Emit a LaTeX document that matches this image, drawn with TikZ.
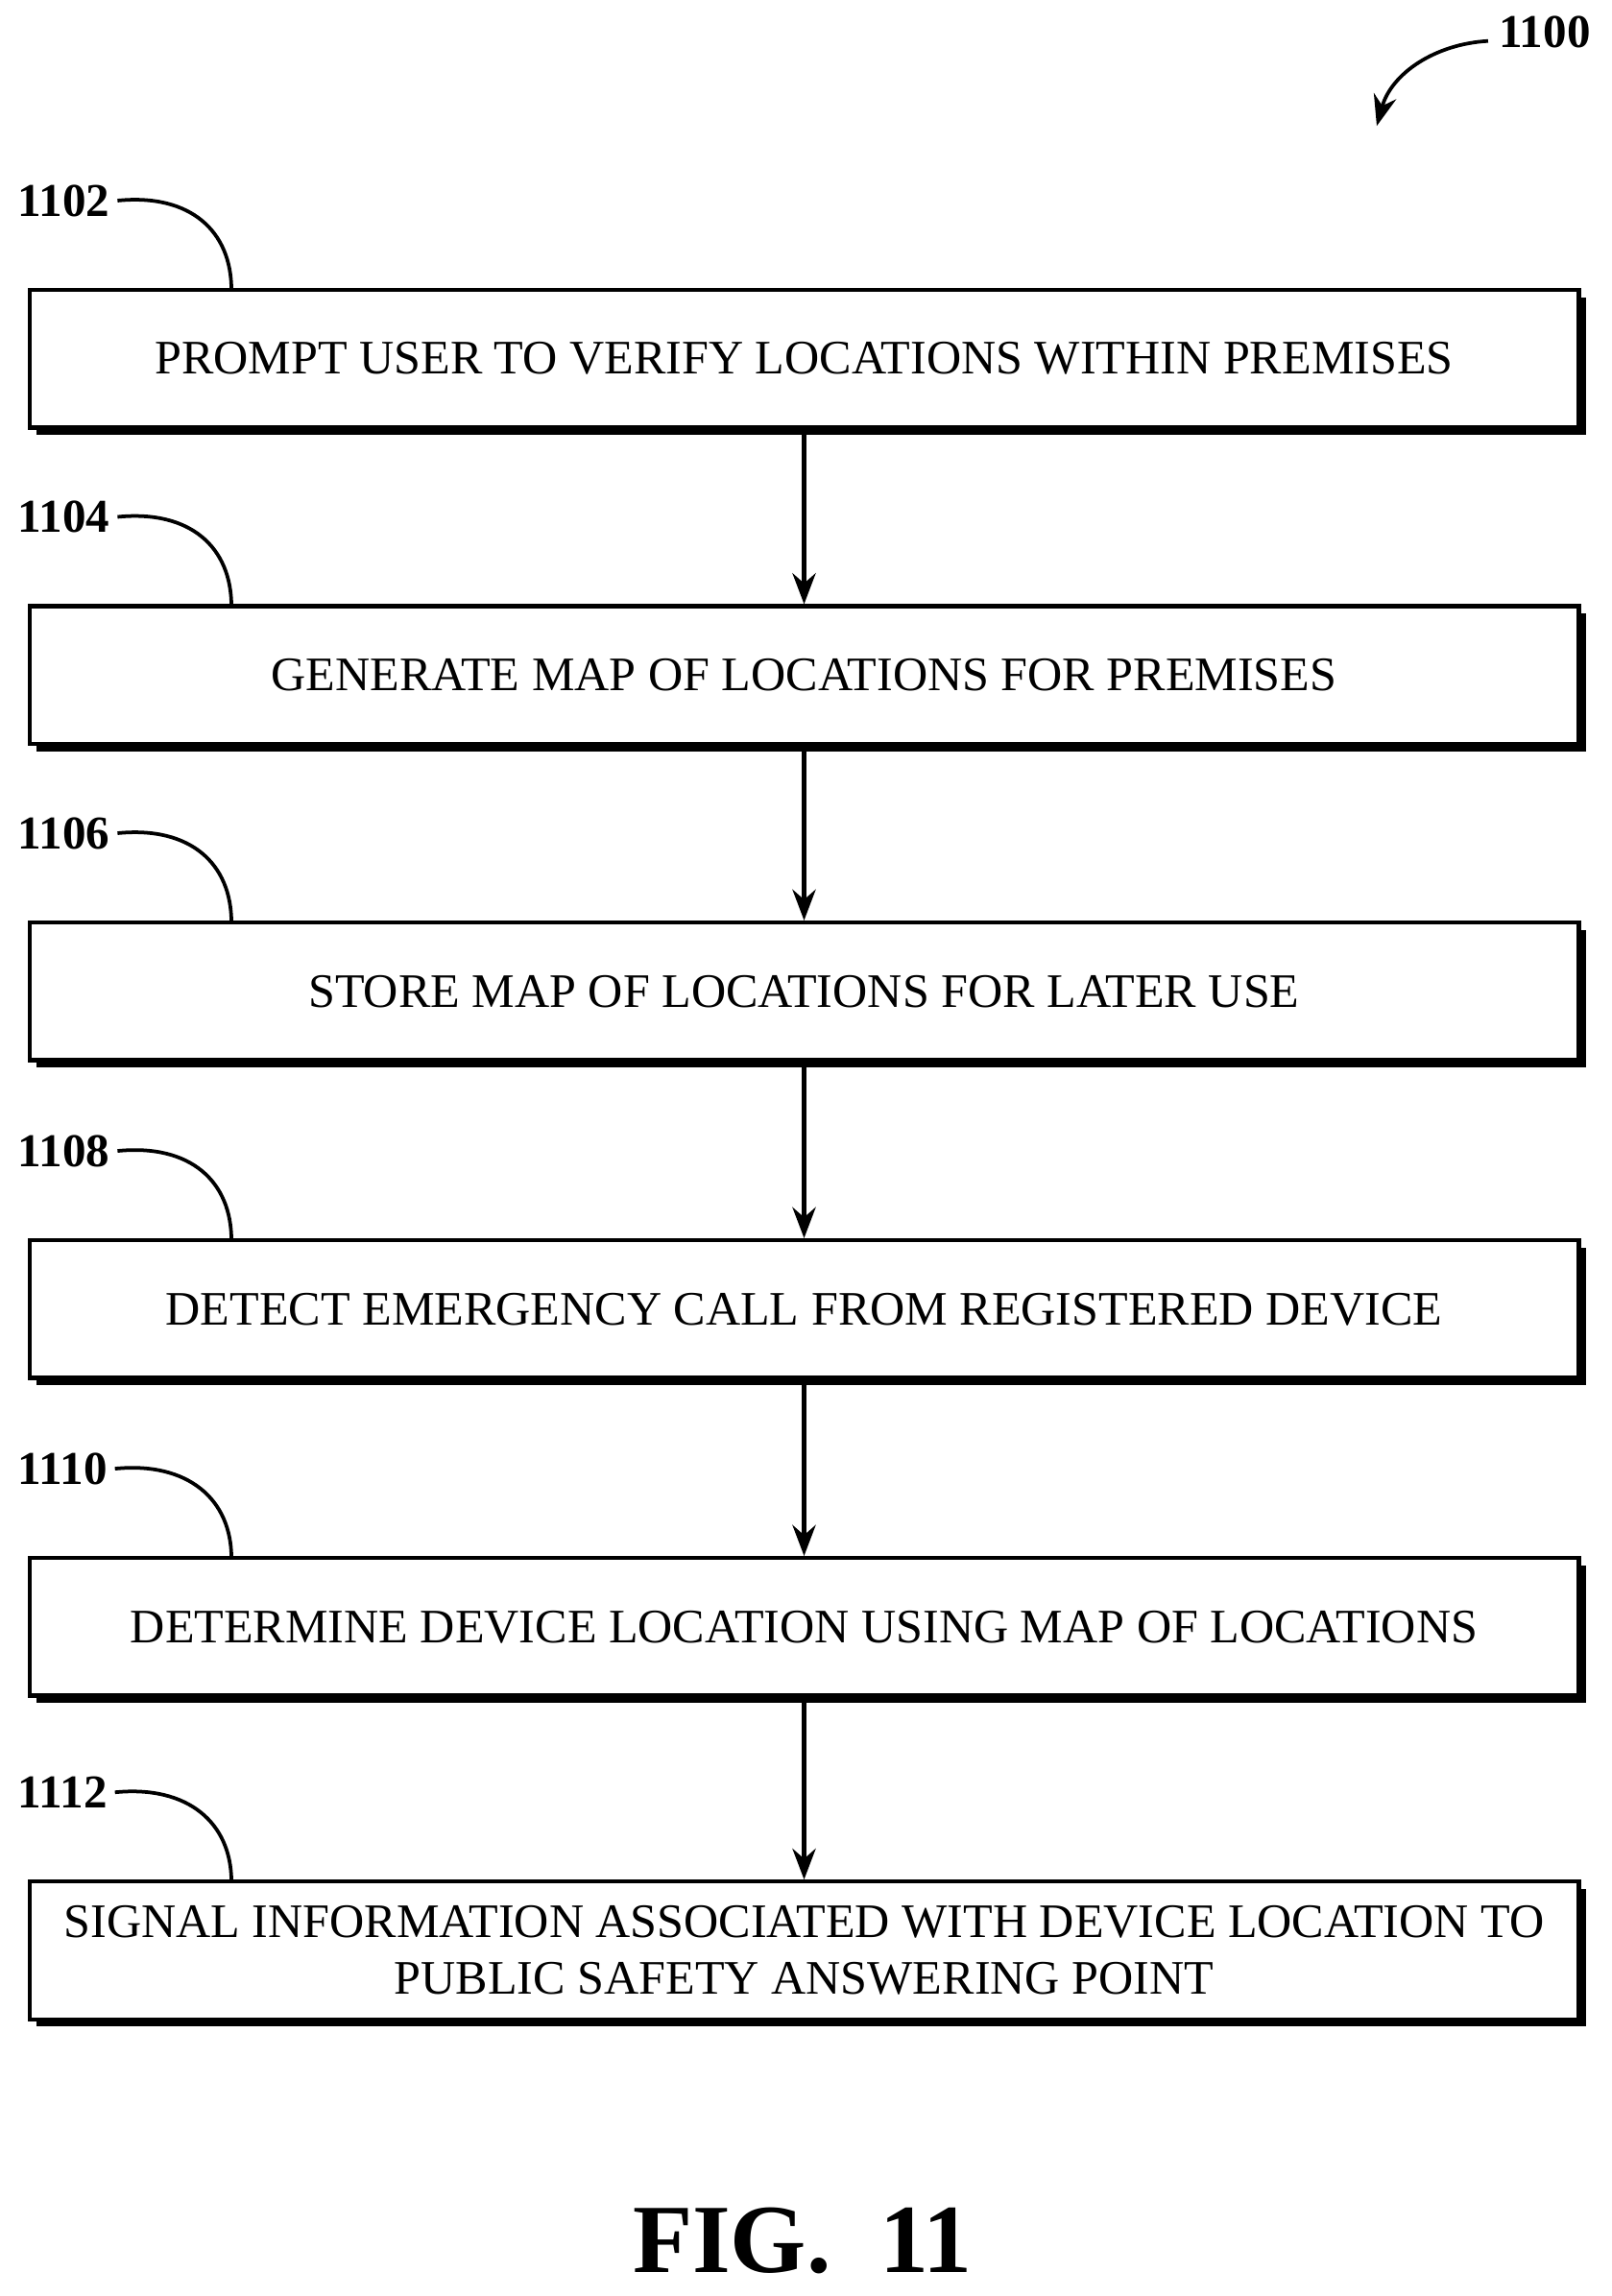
\documentclass[tikz,border=0pt]{standalone}
\usepackage{fontspec}
\usetikzlibrary{arrows.meta}
\setmainfont{Liberation Serif}
\begin{document}
\begin{tikzpicture}[x=0.02cm,y=-0.02cm,
  box/.style={draw,line width=1.6pt,minimum width=21.16cm,minimum height=1.88cm,align=center,font=\fontsize{18.7}{22.2}\selectfont,inner sep=0pt,fill=white},
  lab/.style={font=\bfseries\fontsize{18.3}{21}\selectfont,anchor=west,inner sep=0pt},
  arr/.style={-{Stealth[length=12pt,width=9pt]},line width=1.8pt},
  lead/.style={line width=1.4pt}]
\useasboundingbox (0,0) rectangle (1100,1568);
\foreach \n/\y/\t/\l in {a/245/PROMPT USER TO VERIFY LOCATIONS WITHIN PREMISES/1102,
  b/461/GENERATE MAP OF LOCATIONS FOR PREMISES/1104,
  c/677/STORE MAP OF LOCATIONS FOR LATER USE/1106,
  d/894/DETECT EMERGENCY CALL FROM REGISTERED DEVICE/1108,
  e/1111/DETERMINE DEVICE LOCATION USING MAP OF LOCATIONS/1110,
  f/1332/{SIGNAL INFORMATION ASSOCIATED WITH DEVICE LOCATION TO\\PUBLIC SAFETY ANSWERING POINT}/1112}{
  \fill (25,\y-42) rectangle (1083,\y+52);
  \node[box] (\n) at (549,\y) {\t};
  \node[lab] (l\n) at (12,\y-108) {\l};
  \coordinate (t\n) at (158,\y-47);
  \draw[lead] (l\n.east) ++(5,0) .. controls +(50,-5) and +(0,-40) .. (t\n);
}
\foreach \p/\q in {a/b,b/c,c/d,d/e,e/f} \draw[arr] (\p.south) -- (\q.north);
\node[lab] (top) at (1023,22) {1100};
\coordinate (tt) at (940,86);
\coordinate (ts) at (1016,28);
\draw[lead,-{Stealth[length=12pt,width=9pt]}] (ts) .. controls (980,30) and (950,50) .. (tt);
\node[font=\bfseries\fontsize{38}{42}\selectfont] (fig) at (548,1530) {FIG.\ \ 11};
\end{tikzpicture}
\end{document}
